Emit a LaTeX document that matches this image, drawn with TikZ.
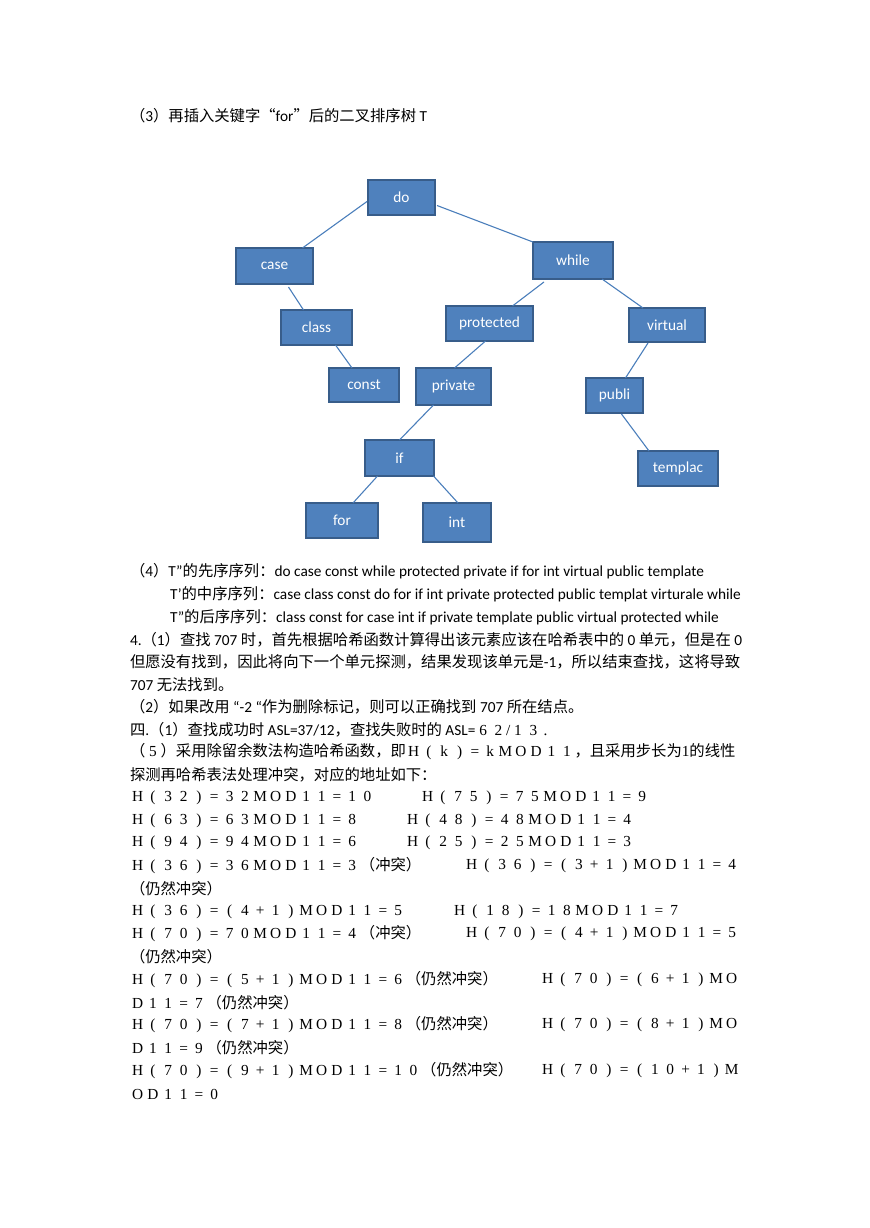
\documentclass[tikz,border=0pt]{standalone}
\usepackage{fontspec}
\setmainfont{Carlito}
\newfontfamily\cjk{Noto Sans CJK SC}
\newfontfamily\ser{Liberation Serif}
\usetikzlibrary{calc}
\newcommand\fw[1]{\fwloop#1\relax}
\def\fwloop#1{\ifx\relax#1\else\makebox[10.5pt]{\ser#1}\expandafter\fwloop\fi}
\definecolor{boxfill}{HTML}{4F81BD}
\definecolor{boxline}{HTML}{385D8A}
\definecolor{edgecol}{HTML}{4A7EBB}
\begin{document}
\begin{tikzpicture}[x=0.685pt,y=-0.685pt,
  tn/.style={draw=boxline,fill=boxfill,line width=1.4pt,text=white,inner sep=0pt,outer sep=0pt,font=\fontsize{10.5}{12}\selectfont},
  edge/.style={draw=edgecol,line width=0.75pt},
  tx/.style={anchor=west,inner sep=0pt,outer sep=0pt,font=\fontsize{10.5}{12}\selectfont,text=black}]
\useasboundingbox (0,0) rectangle (869,1228);
% tree nodes
\node[tn,minimum width=45.9pt,minimum height=24.0pt] (do) at (401.5,197.5) {do};
\node[tn,minimum width=52.7pt,minimum height=24.7pt] (case) at (274.5,266) {case};
\node[tn,minimum width=54.8pt,minimum height=25.3pt] (while) at (573,260.5) {while};
\node[tn,minimum width=48.6pt,minimum height=24.0pt] (class) at (316.5,327.5) {class};
\node[tn,minimum width=59.6pt,minimum height=24.0pt] (protected) at (489.5,323.5) {protected};
\node[tn,minimum width=52.1pt,minimum height=23.3pt] (virtual) at (667,325) {virtual};
\node[tn,minimum width=48.0pt,minimum height=23.3pt] (const) at (364,385) {const};
\node[tn,minimum width=51.4pt,minimum height=25.3pt] (private) at (453.5,386.5) {private};
\node[tn,minimum width=39.0pt,minimum height=24.0pt] (publi) at (614.5,395.5) {publi};
\node[tn,minimum width=47.3pt,minimum height=24.7pt] (if) at (399.5,458) {if};
\node[tn,minimum width=54.8pt,minimum height=24.0pt] (templac) at (678,468.5) {templac};
\node[tn,minimum width=49.3pt,minimum height=24.0pt] (for) at (342,520.5) {for};
\node[tn,minimum width=46.6pt,minimum height=26.7pt] (int) at (457,522.5) {int};
% connectors
\draw[edge] ($(do.west)+(-1,4)$) -- ($(case.north)+(28,0)$);
\draw[edge] ($(do.east)+(2,8)$) -- (while.north west);
\draw[edge] ($(case.south)+(14,3)$) -- ($(class.north)+(-13,0)$);
\draw[edge] ($(while.south)+(-29,3)$) -- ($(protected.north)+(23,0)$);
\draw[edge] ($(while.south)+(29,0)$) -- ($(virtual.north)+(-24,0)$);
\draw[edge] ($(class.south)+(19,0)$) -- ($(const.north)+(-12,0)$);
\draw[edge] ($(protected.south)+(-4,0)$) -- ($(private.north)+(1,0)$);
\draw[edge] ($(virtual.south)+(-19,1)$) -- ($(publi.north)+(11,0)$);
\draw[edge] ($(publi.south)+(7,1)$) -- ($(templac.north)+(-29,0)$);
\draw[edge] ($(private.south)+(-20,0)$) -- (if.north);
\draw[edge] ($(if.south)+(-22,0)$) -- ($(for.north)+(11,0)$);
\draw[edge] ($(if.south)+(34,0)$) -- ($(int.north)+(1,0)$);
% text
\node[tx] (t1) at (130,116) {{\cjk （}3{\cjk ）再插入关键字“}for{\cjk ”后的二叉排序树} T};
\node[tx] (t2) at (130,571) {{\cjk （}4{\cjk ）}T”{\cjk 的先序序列：}do case const while protected private if for int virtual public template};
\node[tx] (t3) at (170,594) {T’{\cjk 的中序序列：}case class const do for if int private protected public templat virturale while};
\node[tx] (t4) at (170,617) {T”{\cjk 的后序序列：}class const for case int if private template public virtual protected while};
\node[tx] (t5) at (130,640) {4.{\cjk （}1{\cjk ）查找} 707 {\cjk 时，首先根据哈希函数计算得出该元素应该在哈希表中的} 0 {\cjk 单元，但是在} 0};
\node[tx] (t6) at (130,662) {{\cjk 但愿没有找到，因此将向下一个单元探测，结果发现该单元是}-1{\cjk ，所以结束查找，这将导致}};
\node[tx] (t7) at (130,685) {707 {\cjk 无法找到。}};
\node[tx] (t8) at (130,707) {{\cjk （}2{\cjk ）如果改用} “-2 “{\cjk 作为删除标记，则可以正确找到} 707 {\cjk 所在结点。}};
\node[tx] (t9) at (130,730) {{\cjk 四}.{\cjk （}1{\cjk ）查找成功时} ASL=37/12{\cjk ，查找失败时的} ASL=\fw{62}{\ser /}\fw{13}\,{\ser .}};
\node[tx] (t10) at (130,752) {{\cjk （}\fw{5}{\cjk ）采用除留余数法构造哈希函数，即}\fw{H(k)=kMOD11}{\cjk ，且采用步长为}{\ser 1}{\cjk 的线性}};
\node[tx] (t11) at (130,775) {{\cjk 探测再哈希表法处理冲突，对应的地址如下：}};
\node[tx] (h1a) at (130,798) {\fw{H(32)=32MOD11=10}};
\node[tx] (h1b) at (420,798) {\fw{H(75)=75MOD11=9}};
\node[tx] (h2a) at (130,821) {\fw{H(63)=63MOD11=8}};
\node[tx] (h2b) at (405,821) {\fw{H(48)=48MOD11=4}};
\node[tx] (h3a) at (130,843) {\fw{H(94)=94MOD11=6}};
\node[tx] (h3b) at (405,843) {\fw{H(25)=25MOD11=3}};
\node[tx] (h4a) at (130,866) {\fw{H(36)=36MOD11=3}{\cjk （冲突）}};
\node[tx] (h4b) at (464,866) {\fw{H(36)=(3+1)MOD11=4}};
\node[tx] (h5) at (130,889) {{\cjk （仍然冲突）}};
\node[tx] (h6a) at (130,912) {\fw{H(36)=(4+1)MOD11=5}};
\node[tx] (h6b) at (452,912) {\fw{H(18)=18MOD11=7}};
\node[tx] (h7a) at (130,934) {\fw{H(70)=70MOD11=4}{\cjk （冲突）}};
\node[tx] (h7b) at (464,934) {\fw{H(70)=(4+1)MOD11=5}};
\node[tx] (h8) at (130,957) {{\cjk （仍然冲突）}};
\node[tx] (h9a) at (130,980) {\fw{H(70)=(5+1)MOD11=6}{\cjk （仍然冲突）}};
\node[tx] (h9b) at (540,980) {\fw{H(70)=(6+1)MO}};
\node[tx] (h10) at (130,1003) {\fw{D11=7}{\cjk （仍然冲突）}};
\node[tx] (h11a) at (130,1025) {\fw{H(70)=(7+1)MOD11=8}{\cjk （仍然冲突）}};
\node[tx] (h11b) at (540,1025) {\fw{H(70)=(8+1)MO}};
\node[tx] (h12) at (130,1048) {\fw{D11=9}{\cjk （仍然冲突）}};
\node[tx] (h13a) at (130,1071) {\fw{H(70)=(9+1)MOD11=10}{\cjk （仍然冲突）}};
\node[tx] (h13b) at (540,1071) {\fw{H(70)=(10+1)M}};
\node[tx] (h14) at (130,1094) {\fw{OD11=0}};
\end{tikzpicture}
\end{document}
